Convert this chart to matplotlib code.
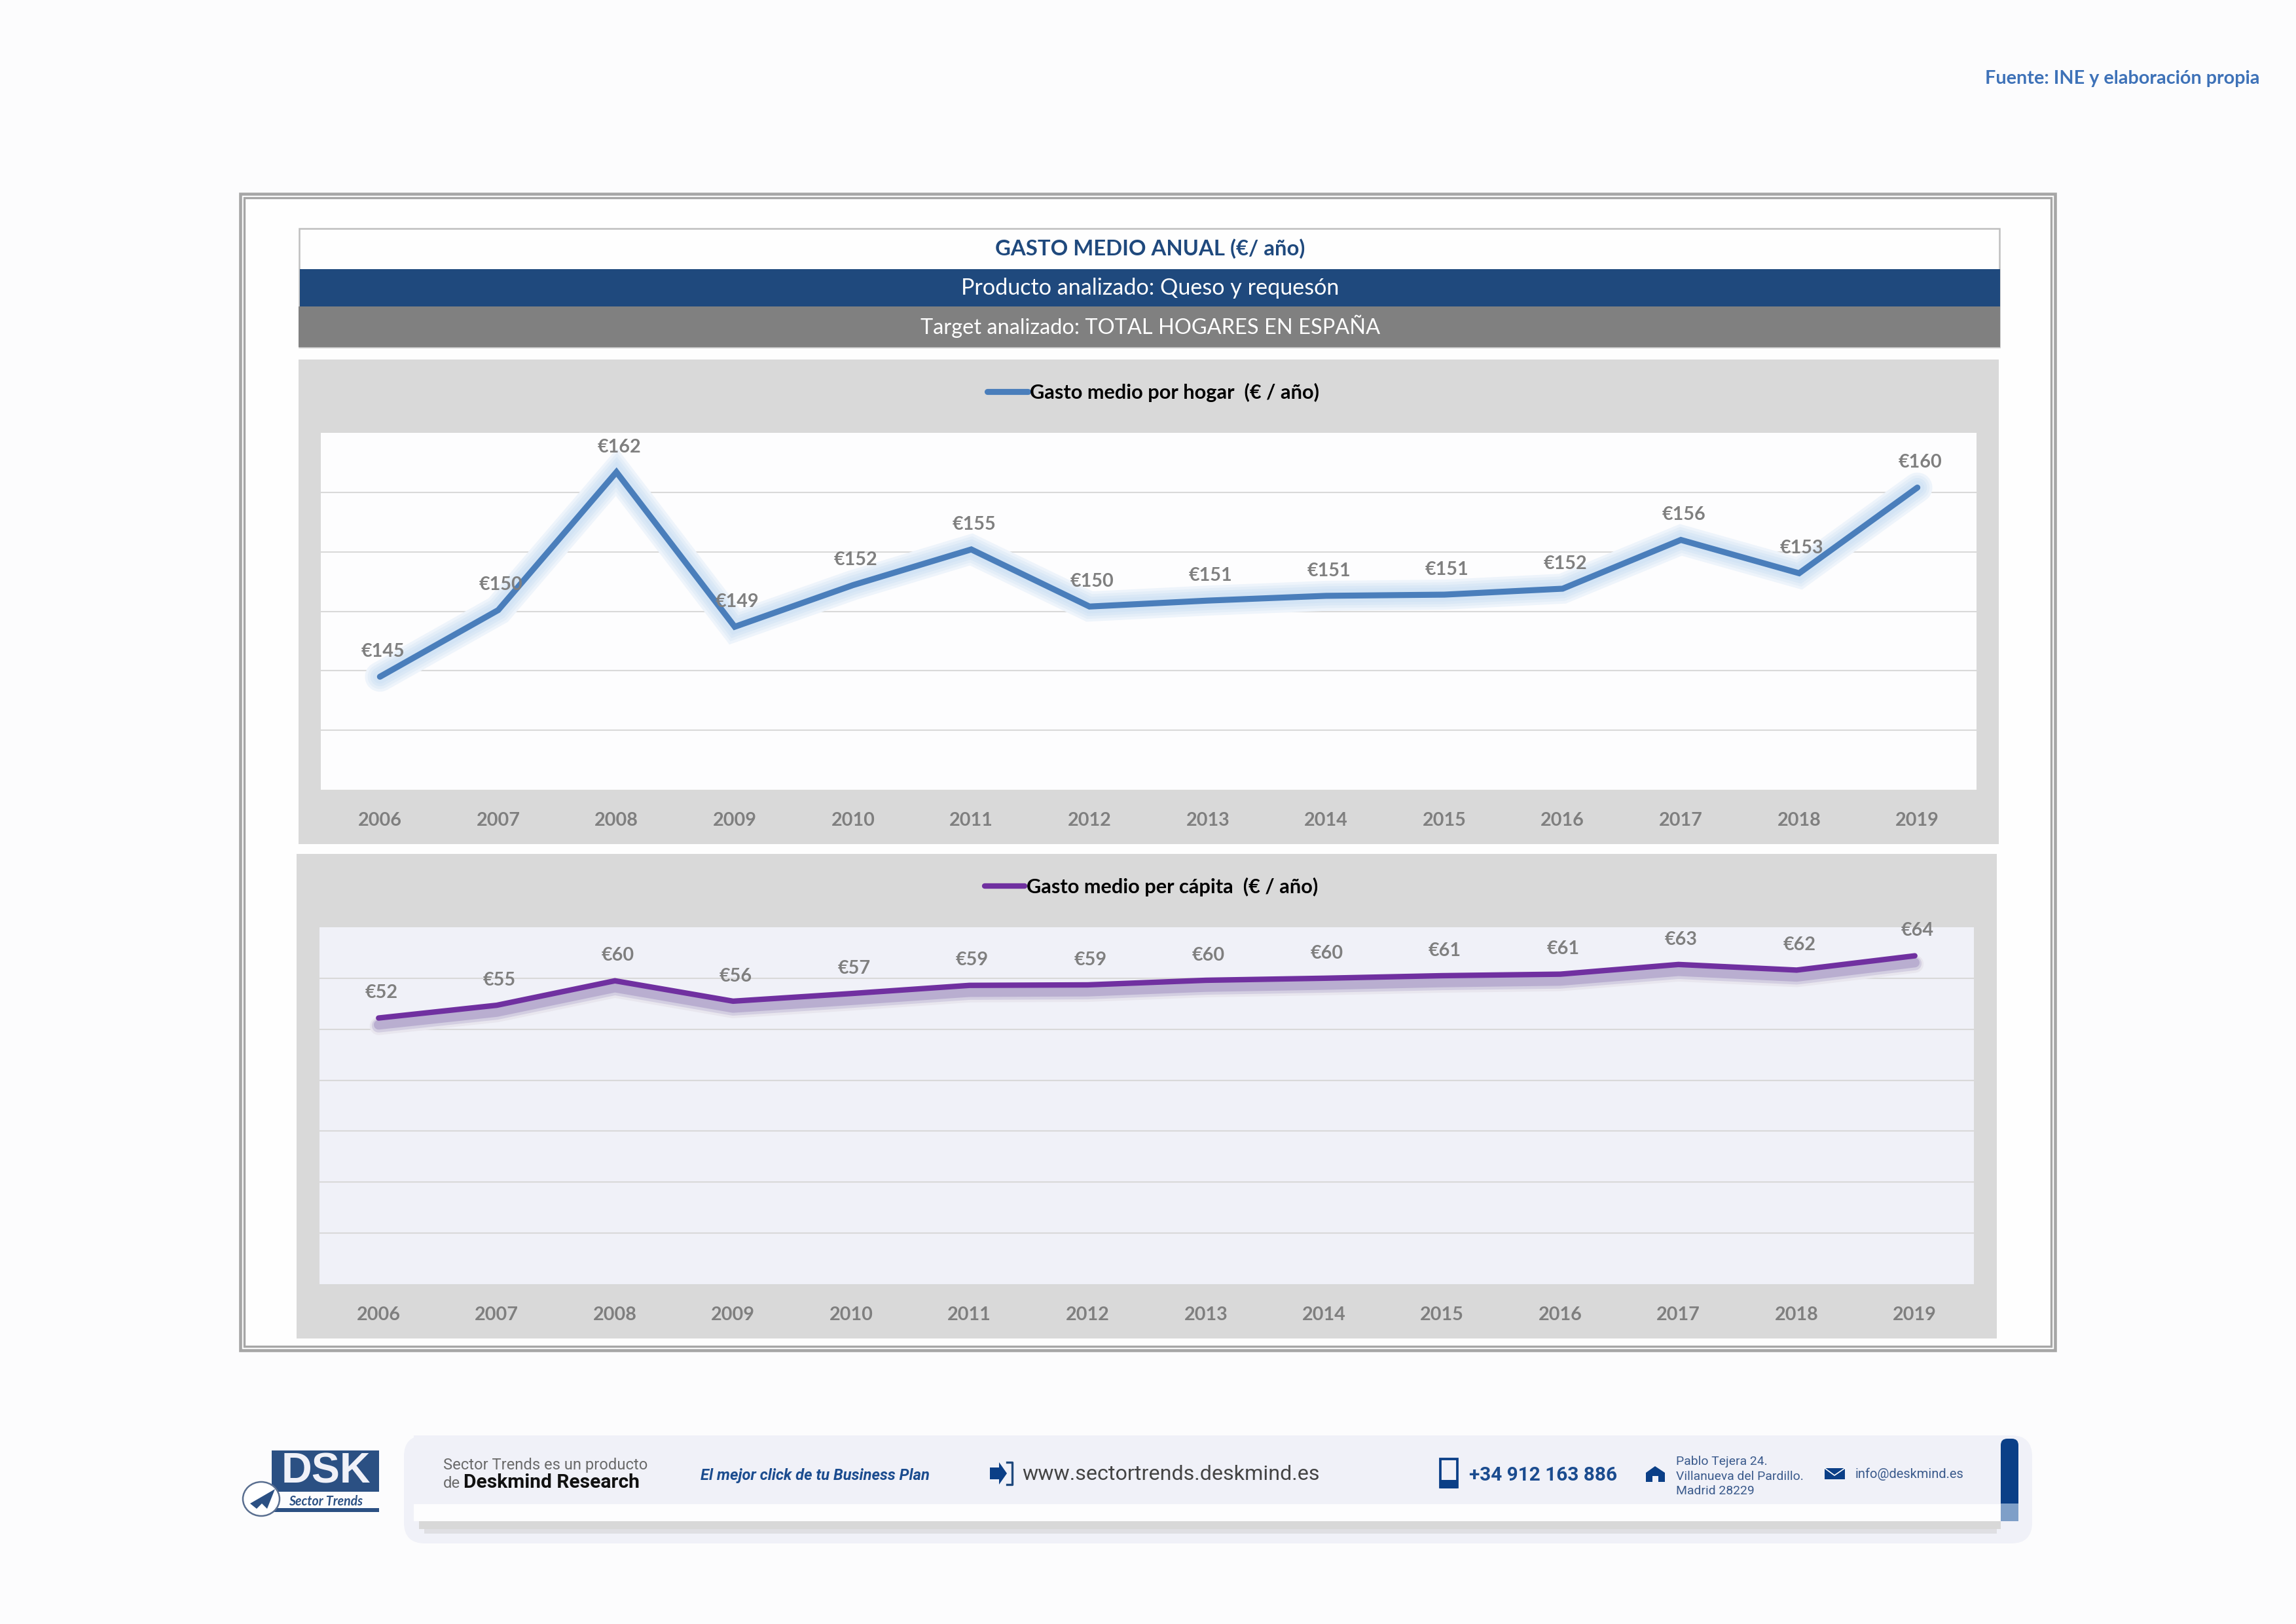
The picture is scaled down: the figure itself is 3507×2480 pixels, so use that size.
#!/usr/bin/python
# -*- coding:utf-8 -*-

import matplotlib
matplotlib.use("Agg")
import matplotlib.pyplot as plt
import matplotlib.patheffects as pe
from matplotlib.patches import Rectangle, Ellipse, Polygon, FancyBboxPatch

years = [2006, 2007, 2008, 2009, 2010, 2011, 2012, 2013, 2014, 2015, 2016, 2017, 2018, 2019]
gasto_hogar = [144.5, 150.1, 161.7, 148.7, 152.2, 155.2, 150.4, 150.9, 151.3, 151.4, 151.9, 156.0, 153.2, 160.4]
gasto_capita = [52.2, 54.7, 59.5, 55.5, 57.0, 58.6, 58.7, 59.6, 60.0, 60.5, 60.8, 62.7, 61.6, 64.4]
hogar_ticks = [140, 145, 150, 155, 160]
capita_ticks = [10, 20, 30, 40, 50, 60]

W, H = 3507, 2480
FONT = "Lato"
BG = "#FCFCFD"
NAVY = "#1F497D"
DEEP = "#0B3F87"
LAV = "#F0F1F8"
GREY_TXT = "#7F7F7F"

fig = plt.figure(figsize=(W / 300, H / 300), dpi=300, facecolor=BG)
bg = fig.add_axes([0, 0, 1, 1])
bg.set_xlim(0, W)
bg.set_ylim(H, 0)
bg.axis("off")


def box(x0, y0, x1, y1, color, **kw):
    bg.add_patch(Rectangle((x0, y0), x1 - x0, y1 - y0, facecolor=color, edgecolor="none", **kw))


def frame(x0, y0, x1, y1, color, lw):
    bg.add_patch(Rectangle((x0, y0), x1 - x0, y1 - y0, facecolor="none", edgecolor=color, lw=lw))


def label(x, y, s, size, color, weight="normal", ha="left", family=FONT, style="normal"):
    bg.text(x, y, s, fontsize=size, color=color, fontweight=weight, ha=ha, va="center",
            family=family, fontstyle=style)


# marco doble
box(367, 296, 3139, 2062, "#FEFEFE")
frame(367, 296, 3139, 2062, "#A6A6A6", 1.1)
frame(373, 302, 3133, 2056, "#A6A6A6", 0.8)

# cabecera
box(456, 348, 3055, 411, "#FEFEFE")
frame(457, 349, 3054, 530, "#BFBFBF", 0.6)
box(458, 411, 3055, 468, NAVY)
box(456, 468, 3055, 530, "#808080")
label(1757, 380, "GASTO MEDIO ANUAL (€/ año)", 7.9, NAVY, "bold", "center")
label(1757, 440, "Producto analizado: Queso y requesón", 8.2, "white", ha="center")
label(1757, 498, "Target analizado: TOTAL HOGARES EN ESPAÑA", 7.8, "white", ha="center")

label(3451, 120, "Fuente: INE y elaboración propia", 6.9, "#3E72B8", "bold", "right")

# paneles grises
box(456, 549, 3053, 1289, "#D9D9D9")
box(453, 1304, 3050, 2044, "#D9D9D9")


def chart(x0, y0, x1, y1, values, ticks, ylim, color, name, face, effects, lw):
    ax = fig.add_axes([x0 / W, 1 - y1 / H, (x1 - x0) / W, (y1 - y0) / H], facecolor=face)
    ax.set_xlim(-0.5, len(years) - 0.5)
    ax.set_ylim(*ylim)
    for s in ax.spines.values():
        s.set_visible(False)
    ax.set_yticks(ticks)
    ax.set_yticklabels([])
    ax.set_xticks(range(len(years)))
    ax.set_xticklabels(years, family=FONT, fontweight="bold", fontsize=6.9, color=GREY_TXT)
    ax.tick_params(length=0, axis="both", pad=8.2)
    ax.grid(axis="y", color="#D9D9D9", lw=0.5)
    ax.set_axisbelow(True)
    ax.plot(range(len(years)), values, color=color, lw=lw, label=name,
            solid_capstyle="round", solid_joinstyle="miter", path_effects=effects)
    for i, v in enumerate(values):
        ax.annotate("€%d" % round(v + 0.01), (i, v), xytext=(1.0, 9.2), textcoords="offset points",
                    ha="center", va="center", family=FONT, fontweight="bold", fontsize=6.9,
                    color=GREY_TXT, annotation_clip=False)
    leg = ax.legend(loc="center", frameon=False,
                    prop={"family": FONT, "weight": "bold", "size": 7.4}, labelcolor="black",
                    handlelength=2.0, handletextpad=0.1)
    leg.get_lines()[0].set_path_effects([])
    leg.set_bbox_to_anchor((0.5 + 7.0 / (x1 - x0), 1 + 62.0 / (y1 - y0)), transform=ax.transAxes)
    return ax


glow = [pe.Stroke(linewidth=11, foreground="#EEF4FB"),
        pe.Stroke(linewidth=9, foreground="#E4EEF8"),
        pe.Stroke(linewidth=7, foreground="#DAE8F6"),
        pe.Stroke(linewidth=5, foreground="#D3E4F5"),
        pe.Normal()]
shadow = [pe.Stroke(linewidth=6.5, foreground="#E8E6EE", offset=(0, -3.0)),
          pe.Stroke(linewidth=5, foreground="#D3CEE1", offset=(0, -2.8)),
          pe.Stroke(linewidth=3.5, foreground="#B9AED0", offset=(0, -2.5)),
          pe.Normal()]

chart(490, 661, 3019, 1206, gasto_hogar, hogar_ticks, (135, 165), "#4A7EBB",
      "Gasto medio por hogar  (€ / año)", "#FDFDFE", glow, 2.2)
chart(488, 1416, 3015, 1961, gasto_capita, capita_ticks, (0, 70), "#7030A0",
      "Gasto medio per cápita  (€ / año)", LAV, shadow, 2.0)

# banda inferior
bg.add_patch(FancyBboxPatch((617, 2192), 2487, 165, boxstyle="round,pad=0,rounding_size=32",
                            facecolor=LAV, edgecolor="none"))
box(640, 2323, 3056, 2335, "#D8D8D8")
box(648, 2335, 3050, 2342, "#DFDFE3")
box(632, 2297, 3056, 2323, "#FDFDFE")
box(632, 2192, 3056, 2297, LAV)
bg.add_patch(FancyBboxPatch((3056, 2197), 27, 110, boxstyle="round,pad=0,rounding_size=10",
                            facecolor=DEEP, edgecolor="none"))
box(3056, 2296, 3083, 2323, "#7F9FC8")

# logo DSK
box(415, 2215, 579, 2278, "#2B5083")
box(415, 2303, 579, 2309, "#2B5083")
label(498, 2247, "DSK", 15.5, "#F0F1F8", "bold", "center", "Liberation Sans")
label(498, 2293, "Sector Trends", 4.7, "#2B5083", "bold", "center", "Lato", "italic")
bg.add_patch(Ellipse((399, 2289), 56, 52, facecolor="white", edgecolor="#5A6F90", lw=0.6))
bg.add_patch(Polygon([(382, 2296), (420, 2274), (408, 2304), (400, 2296), (392, 2304)], facecolor="#2B5083"))

# textos de la banda
label(677, 2237, "Sector Trends es un producto", 5.7, "#6A6A6A", family="Roboto")
label(677, 2265, "de", 5.7, "#6A6A6A", family="Roboto")
label(708, 2264, "Deskmind Research", 7.2, "#111111", "bold", family="Roboto")
label(1070, 2253, "El mejor click de tu Business Plan", 5.7, "#1B4C8F", "bold", family="Roboto", style="italic")
box(1512, 2241, 1530, 2259, DEEP)
bg.add_patch(Polygon([(1526, 2233), (1538, 2250), (1526, 2267)], facecolor=DEEP))
bg.plot([1538, 1546, 1546, 1538], [2233, 2233, 2267, 2267], color=NAVY, lw=0.8)
label(1561, 2251, "www.sectortrends.deskmind.es", 7.75, "#444444", family="Roboto")

frame(2200, 2228, 2226, 2271, DEEP, 0.9)
box(2200, 2260, 2226, 2273, DEEP)
label(2244, 2253, "+34 912 163 886", 7.15, "#1B4C8F", "bold", family="Roboto")
bg.add_patch(Polygon([(2514, 2263), (2514, 2249), (2528, 2239), (2543, 2249), (2543, 2263),
                      (2533, 2263), (2533, 2254), (2524, 2254), (2524, 2263)], facecolor=DEEP))
label(2560, 2232, "Pablo Tejera 24.", 4.65, "#3A5A8C", family="Roboto")
label(2560, 2255, "Villanueva del Pardillo.", 4.65, "#3A5A8C", family="Roboto")
label(2560, 2277, "Madrid 28229", 4.65, "#3A5A8C", family="Roboto")
box(2787, 2242, 2818, 2259, DEEP)
bg.plot([2787, 2802, 2818], [2242, 2253, 2242], color="white", lw=0.4)
label(2834, 2251, "info@deskmind.es", 4.85, "#3A5A8C", family="Roboto")

plt.savefig("out.png", dpi=300, facecolor=BG)
